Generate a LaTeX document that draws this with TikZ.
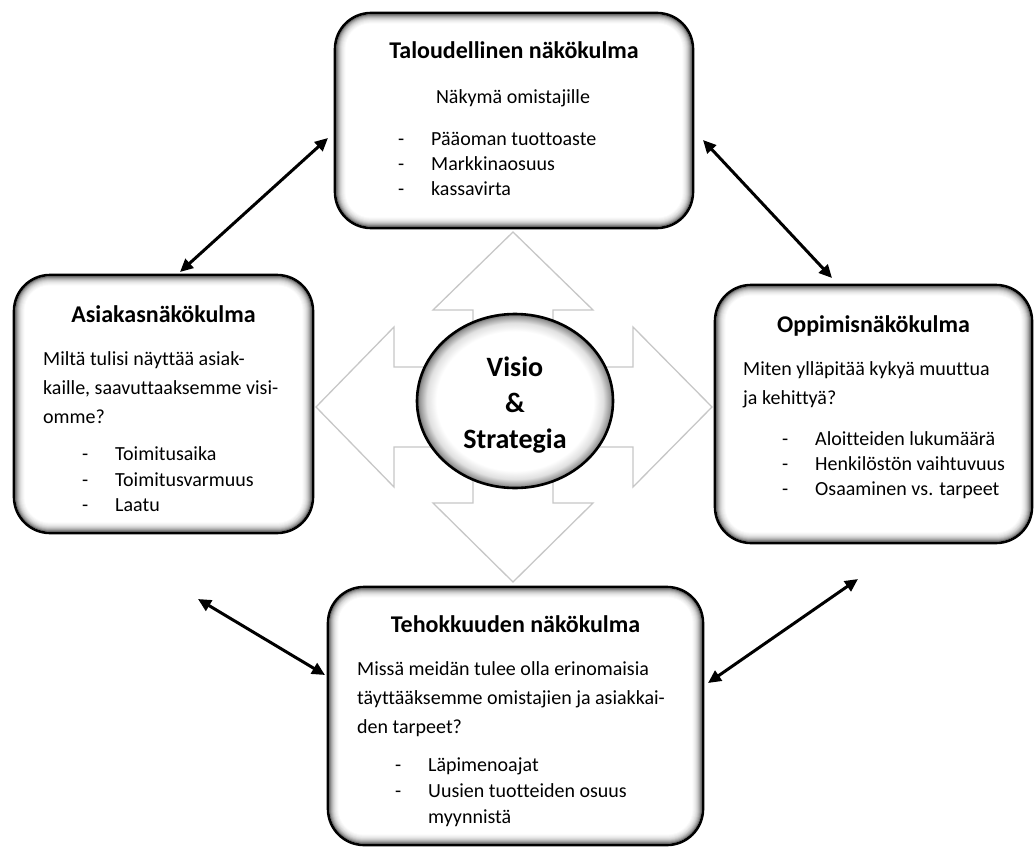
\documentclass[tikz,border=0pt]{standalone}
\usepackage{fontspec}
\setmainfont{Carlito}[Ligatures=NoCommon]
\usetikzlibrary{arrows.meta,backgrounds,shapes.geometric}

% soft inner glow for the central oval (path edge sits at 25bp)
\pgfdeclareradialshading{ovalglow}{\pgfpoint{0bp}{0bp}}{%
  color(0bp)=(white); color(20bp)=(white); color(22.5bp)=(black!12);
  color(24.3bp)=(black!40); color(25bp)=(black!60); color(50bp)=(black!60)}

\tikzset{
  panel/.style={draw=black, line width=2.6pt, rounded corners=36pt,
    inner sep=0pt, outer sep=0pt},
  ptitle/.style={anchor=base, inner sep=0pt, font=\fontsize{24}{28}\selectfont\bfseries},
  ptext/.style={anchor=base west, inner sep=0pt, font=\fontsize{20}{26}\selectfont},
  pcenter/.style={anchor=base, inner sep=0pt, font=\fontsize{20}{26}\selectfont},
  vtext/.style={anchor=base, inner sep=0pt, font=\fontsize{28}{32}\selectfont\bfseries},
  link/.style={line width=3pt,
    {Triangle[length=13pt,width=12pt]}-{Triangle[length=13pt,width=12pt]}},
  crossline/.style={draw=black!22, line width=1.3pt, fill=white, line join=miter},
}

% grey inner glow along the border of a panel node
\newcommand\panelglow[1]{%
  \foreach \i/\c in {1.3/55,2.3/42,3.3/32,4.3/24,5.3/17,6.3/12,7.3/8,8.3/5,9.3/2.5,10.3/0}{%
    \pgfmathsetmacro\r{36-\i}%
    \fill[black!\c, rounded corners=\r pt]
      ([shift={(\i,\i)}]#1.north west) rectangle ([shift={(-\i,-\i)}]#1.south east);}}

% one list item: dash, tab, text
\newcommand\dashitem[1]{\makebox[33pt][l]{-}#1}

\begin{document}
\begin{tikzpicture}[x=1pt,y=-1pt]
\begin{scope}[on background layer]
  \fill[white] (0,0) rectangle (1035,851);
\end{scope}
\useasboundingbox (0,0) rectangle (1035,851);

% four-way arrow behind the centre
\draw[crossline] (513,232) -- (593,310) -- (553,310) -- (553,367) -- (633,367)
  -- (633,327) -- (712,407) -- (633,487) -- (633,447) -- (553,447) -- (553,503)
  -- (593,503) -- (513,582) -- (433,503) -- (473,503) -- (473,447) -- (394,447)
  -- (394,487) -- (316,407) -- (394,327) -- (394,367) -- (473,367) -- (473,310)
  -- (433,310) -- cycle;

% central oval
\node[ellipse, draw=black, line width=2.6pt, minimum width=196pt, minimum height=174pt,
  shade, shading=ovalglow] (vis) at (515,401) {};
\node[vtext] (vis1) at (515,376) {Visio};
\node[vtext] (vis2) at (515,412) {\&};
\node[vtext] (vis3) at (515,448) {Strategia};

% the four perspective panels
\node[panel, minimum width=358pt, minimum height=215pt] (fin)   at (514,120.5) {};
\node[panel, minimum width=299pt, minimum height=258pt] (cust)  at (163.5,404) {};
\node[panel, minimum width=317pt, minimum height=258pt] (learn) at (873.5,414) {};
\node[panel, minimum width=375pt, minimum height=258pt] (proc)  at (515.5,716) {};

\begin{scope}[on background layer]
  \panelglow{fin}
  \panelglow{cust}
  \panelglow{learn}
  \panelglow{proc}
\end{scope}

% financial perspective
\node[ptitle]  (fin-t)  at (514,59)  {Taloudellinen näkökulma};
\node[pcenter] (fin-s)  at (513,103) {Näkymä omistajille};
\node[ptext]   (fin-1)  at (398,145) {\dashitem{Pääoman tuottoaste}};
\node[ptext]   (fin-2)  at (398,170) {\dashitem{Markkinaosuus}};
\node[ptext]   (fin-3)  at (398,195) {\dashitem{kassavirta}};

% customer perspective
\node[ptitle] (cust-t) at (163.5,322) {Asiakasnäkökulma};
\node[ptext]  (cust-p1) at (43,365) {Miltä tulisi näyttää asiak-};
\node[ptext]  (cust-p2) at (43,394) {kaille, saavuttaaksemme visi-};
\node[ptext]  (cust-p3) at (43,423) {omme?};
\node[ptext]  (cust-1) at (82,460) {\dashitem{Toimitusaika}};
\node[ptext]  (cust-2) at (82,486) {\dashitem{Toimitusvarmuus}};
\node[ptext]  (cust-3) at (82,511) {\dashitem{Laatu}};

% learning perspective
\node[ptitle] (learn-t) at (873.5,332) {Oppimisnäkökulma};
\node[ptext]  (learn-p1) at (743,375) {Miten ylläpitää kykyä muuttua};
\node[ptext]  (learn-p2) at (743,404) {ja kehittyä?};
\node[ptext]  (learn-1) at (782,445) {\dashitem{Aloitteiden lukumäärä}};
\node[ptext]  (learn-2) at (782,470) {\dashitem{Henkilöstön vaihtuvuus}};
\node[ptext]  (learn-3) at (782,495) {\dashitem{Osaaminen vs. tarpeet}};

% efficiency perspective
\node[ptitle] (proc-t) at (515.5,632) {Tehokkuuden näkökulma};
\node[ptext]  (proc-p1) at (357,675) {Missä meidän tulee olla erinomaisia};
\node[ptext]  (proc-p2) at (357,704) {täyttääksemme omistajien ja asiakkai-};
\node[ptext]  (proc-p3) at (357,733) {den tarpeet?};
\node[ptext]  (proc-1) at (395,771) {\dashitem{Läpimenoajat}};
\node[ptext]  (proc-2) at (395,797) {\dashitem{Uusien tuotteiden osuus}};
\node[ptext]  (proc-3) at (428,823) {myynnistä};

% two-way links between neighbouring panels
\draw[link] ([shift={(-7,17.5)}]fin.west)  -- ([shift={(16.5,-3)}]cust.north);
\draw[link] ([shift={(10,19.5)}]fin.east)  -- ([shift={(-41.5,-7)}]learn.north);
\draw[link] ([shift={(34.5,66)}]cust.south) -- ([shift={(-3,-41)}]proc.west);
\draw[link] ([shift={(-15.5,36)}]learn.south) -- ([shift={(5,-33)}]proc.east);
\end{tikzpicture}
\end{document}
